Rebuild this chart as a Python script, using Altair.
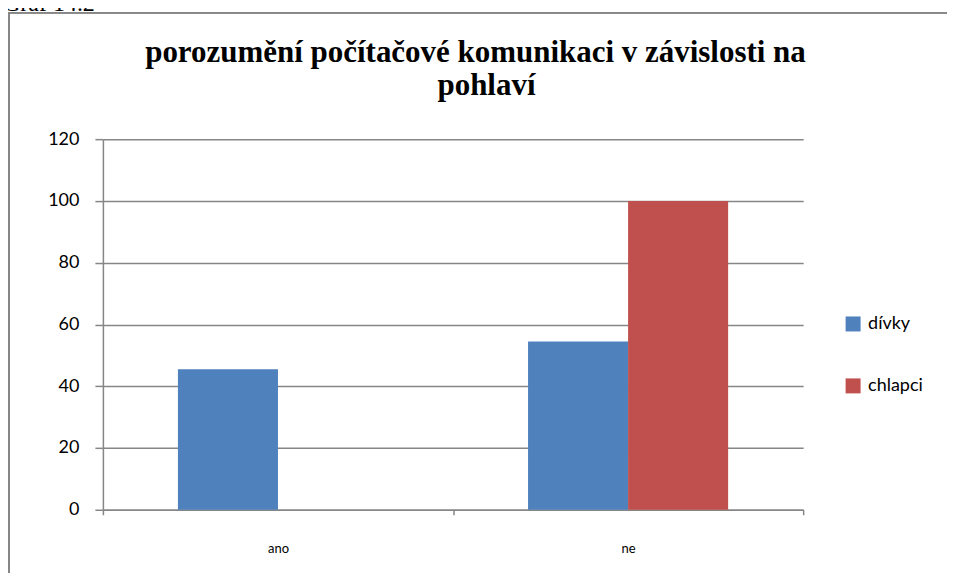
import altair as alt
import pandas as pd

categories = ["ano", "ano", "ne", "ne"]
series = ["dívky", "chlapci", "dívky", "chlapci"]
values = [45.5, 0, 54.5, 100]
y_ticks = [0, 20, 40, 60, 80, 100, 120]
series_order = ["dívky", "chlapci"]
series_colors = ["#4F81BD", "#C0504D"]
title_lines = ["porozumění počítačové komunikaci v závislosti na", "pohlaví"]
caption = "Graf 14.2"

df = pd.DataFrame({"kategorie": categories, "pohlavi": series, "hodnota": values})

W, H = 701, 371
GRAY = "#868686"
FONT = "Lato"
SERIF = "Liberation Serif, Times New Roman, serif"

bars = alt.Chart(df).mark_bar(stroke=None).encode(
    x=alt.X("kategorie:N", title=None,
            scale=alt.Scale(paddingInner=0, paddingOuter=0),
            axis=alt.Axis(labelAngle=0, labelFont=FONT, labelFontSize=13, labelColor="black",
                          labelPadding=28, tickBand="extent", tickSize=5, tickColor=GRAY,
                          domainColor=GRAY, domainWidth=1.5, tickWidth=1.5, grid=False)),
    xOffset=alt.XOffset("pohlavi:N", sort=series_order,
                        scale=alt.Scale(paddingInner=0, paddingOuter=0.75)),
    y=alt.Y("hodnota:Q", title=None,
            scale=alt.Scale(domain=[0, 120], nice=False),
            axis=alt.Axis(values=y_ticks, labelFont=FONT, labelFontSize=18, labelColor="black",
                          labelPadding=16, tickSize=8, tickColor=GRAY, tickWidth=1.5,
                          domainColor=GRAY, domainWidth=1.5,
                          grid=True, gridColor=GRAY, gridWidth=1.5)),
    color=alt.Color("pohlavi:N", sort=series_order,
                    scale=alt.Scale(domain=series_order, range=series_colors),
                    legend=alt.Legend(title=None, orient="none", legendX=742, legendY=176,
                                      symbolType="square", symbolSize=225, symbolStrokeWidth=0,
                                      labelFont=FONT, labelFontSize=18, labelColor="black",
                                      labelOffset=6, rowPadding=44)),
)

frame_top = alt.Chart(df).mark_rule(stroke=GRAY, strokeWidth=1.5).encode(
    x=alt.value(-94), x2=alt.value(W + 300), y=alt.value(-126.5)
)
frame_left = alt.Chart(df).mark_rule(stroke=GRAY, strokeWidth=1.5).encode(
    x=alt.value(-94), y=alt.value(-127.25), y2=alt.value(H + 300)
)

cap = alt.Chart(pd.DataFrame({"t": [caption]})).mark_text(
    font=SERIF, fontSize=24, align="left", baseline="alphabetic", color="black"
).encode(x=alt.value(-100), y=alt.value(-128), text="t:N")

title1 = alt.Chart(pd.DataFrame({"t": [title_lines[0]]})).mark_text(
    font=SERIF, fontSize=31, fontWeight="bold", align="center",
    baseline="alphabetic", color="black"
).encode(x=alt.value(373), y=alt.value(-77), text="t:N")

title2 = alt.Chart(pd.DataFrame({"t": [title_lines[1]]})).mark_text(
    font=SERIF, fontSize=31, fontWeight="bold", align="center",
    baseline="alphabetic", color="black"
).encode(x=alt.value(384), y=alt.value(-44), text="t:N")

chart = alt.layer(frame_top, frame_left, bars, cap, title1, title2).properties(
    width=W, height=H,
    autosize=alt.AutoSizeParams(type="none"),
    padding={"left": 95, "top": 131, "right": 144, "bottom": 63},
).configure_view(stroke=None)

chart.save("out.html", embed_options={"renderer": "svg", "actions": False})
